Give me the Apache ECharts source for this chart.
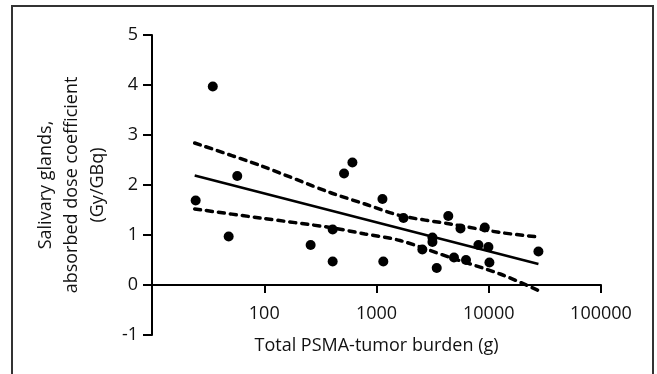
<!DOCTYPE html>
<html>
<head>
<meta charset="utf-8">
<script src="https://cdn.jsdelivr.net/npm/echarts@6/dist/echarts.min.js"></script>
<style>
  html, body { margin: 0; padding: 0; background: #fff; }
  #chart { width: 657px; height: 374px; }
</style>
</head>
<body>
<div id="chart"></div>
<script>
// measured points: total PSMA-tumor burden (g) vs absorbed dose coefficient (Gy/GBq)
const burden = [24.5, 34.8, 48.2, 57.5, 259, 407, 407, 514, 610, 1130, 1150, 1740, 2560,
  3150, 3150, 3440, 4360, 4900, 5600, 6270, 8090, 9220, 9930, 10140, 27700];
const dose = [1.69, 3.97, 0.97, 2.18, 0.80, 1.11, 0.47, 2.23, 2.45, 1.72, 0.47, 1.34, 0.71,
  0.95, 0.86, 0.34, 1.38, 0.55, 1.13, 0.50, 0.80, 1.15, 0.76, 0.45, 0.67];

// regression line and 95% band
const fitX = [24, 27700];
const fitY = [2.19, 0.42];
const bandX = [24, 92, 386, 790, 1620, 4530, 12650, 27700];
const bandUpper = [2.84, 2.39, 1.85, 1.62, 1.39, 1.22, 1.05, 0.96];
const bandLower = [1.52, 1.34, 1.15, 1.02, 0.89, 0.55, 0.22, -0.11];

const yTicks = [-1, 0, 1, 2, 3, 4, 5];

const zip = (xs, ys) => xs.map((x, i) => [x, ys[i]]);
const FONT = "'Open Sans', 'Noto Sans', sans-serif";
const INK = "#000";
const TEXT = "#111";

// x axis sits on y = 0, one unit (50px) above the bottom of the grid
const X_AXIS_LIFT = -50;

const chart = echarts.init(document.getElementById("chart"), null, { renderer: "canvas" });

const dashed = { color: INK, width: 3.5, type: [6, 6], cap: "round" };

chart.setOption({
  animation: false,
  backgroundColor: "#fff",
  graphic: [{
    type: "rect",
    shape: { x: 12, y: 6, width: 641, height: 420 },
    style: { fill: "none", stroke: "#333", lineWidth: 2 },
    silent: true,
  }],
  grid: { left: 152, right: 56, top: 35, bottom: 39, outerBoundsMode: "none", containLabel: false },
  xAxis: {
    type: "log",
    logBase: 10,
    min: 10,
    max: 100000,
    offset: X_AXIS_LIFT,
    name: "Total PSMA-tumor burden (g)",
    nameLocation: "middle",
    nameGap: 52,
    nameTextStyle: { color: TEXT, fontSize: 18, fontFamily: FONT },
    axisLine: { onZero: false, lineStyle: { color: INK, width: 2 } },
    axisTick: { length: 8, lineStyle: { color: INK, width: 2 } },
    axisLabel: {
      color: TEXT, fontSize: 18, fontFamily: FONT, margin: 20,
      formatter: (v) => (Math.round(v) === 10 ? "" : String(Math.round(v))),
    },
    splitLine: { show: false },
  },
  yAxis: {
    type: "value",
    min: yTicks[0],
    max: yTicks[yTicks.length - 1],
    interval: 1,
    name: "Salivary glands,\nabsorbed dose coefficient\n(Gy/GBq)",
    nameLocation: "middle",
    nameGap: 36,
    nameTextStyle: { color: TEXT, fontSize: 18, fontFamily: FONT, lineHeight: 26, align: "center" },
    axisLine: { show: true, onZero: false, lineStyle: { color: INK, width: 2 } },
    axisTick: { show: true, length: 9, lineStyle: { color: INK, width: 2 } },
    axisLabel: { color: TEXT, fontSize: 18, fontFamily: FONT, margin: 14 },
    splitLine: { show: false },
  },
  series: [
    {
      type: "line",
      data: zip(bandX, bandUpper),
      smooth: 0.3,
      symbol: "none",
      lineStyle: dashed,
      z: 2,
    },
    {
      type: "line",
      data: zip(bandX, bandLower),
      smooth: 0.3,
      symbol: "none",
      lineStyle: dashed,
      z: 2,
    },
    {
      type: "line",
      data: zip(fitX, fitY),
      symbol: "none",
      lineStyle: { color: INK, width: 2.5 },
      z: 2,
    },
    {
      type: "scatter",
      data: zip(burden, dose),
      symbol: "circle",
      symbolSize: 10,
      itemStyle: { color: INK, opacity: 1 },
      z: 3,
    },
  ],
});
</script>
</body>
</html>
